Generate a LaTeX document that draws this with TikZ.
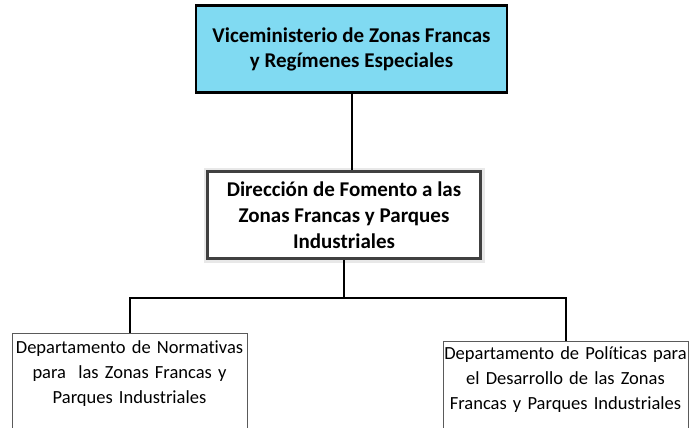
\documentclass[tikz,border=0pt]{standalone}
\usepackage{fontspec}
\setmainfont{Carlito}[Ligatures=NoCommon]
\definecolor{vicecyan}{RGB}{128,218,242}
\definecolor{framegray}{RGB}{64,64,64}
\definecolor{deptgray}{RGB}{90,90,90}
\tikzset{
  vicebox/.style={draw=black, line width=2.5pt, fill=vicecyan, minimum width=311pt, minimum height=87pt, align=center, font=\fontsize{21}{25}\selectfont\bfseries},
  fomentobox/.style={draw=framegray, line width=3.5pt, fill=white, minimum width=273pt, minimum height=87pt, align=center, font=\fontsize{21}{26}\selectfont\bfseries, preaction={draw=gray!18, line width=8pt}},
  deptbox/.style={draw=deptgray, line width=0.8pt, anchor=north, inner xsep=0pt, inner ysep=0pt, text depth=120pt, align=center, font=\fontsize{18.5}{25}\selectfont},
  link/.style={line width=2pt, black}
}
\begin{document}
\begin{tikzpicture}[x=1pt, y=-1pt]
\useasboundingbox (0,0) rectangle (691,428);
% viceministerio
\node[vicebox] (vice) at (351.5,49) {Viceministerio de Zonas Francas\\y Regímenes Especiales};
% direccion
\node[fomentobox] (fomento) at (344,215) {Dirección de Fomento a las\\Zonas Francas y Parques\\Industriales};
% departamentos
\node[deptbox, text width=235pt, text height=20pt] (normas) at (129.5,333) {Departamento de Normativas\\para \ las Zonas Francas y\\Parques Industriales};
\node[deptbox, text width=245pt, text height=18pt] (politicas) at (565.5,341) {Departamento de Políticas para\\el Desarrollo de las Zonas\\Francas y Parques Industriales};
% connectors
\coordinate (bus) at (0,298);
\draw[link] (vice.south) -- (vice.south |- fomento.north);
\draw[link] (fomento.south) -- (fomento.south |- bus);
\draw[link] (normas.north) -- (normas.north |- bus) -- (politicas.north |- bus) -- (politicas.north);
\end{tikzpicture}
\end{document}
